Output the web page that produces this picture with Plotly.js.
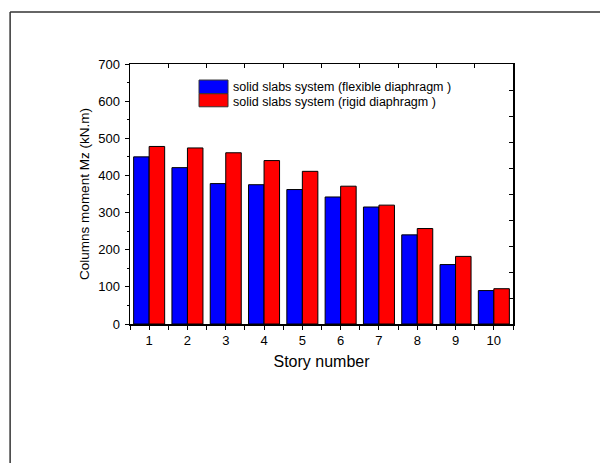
<!DOCTYPE html>
<html>
<head>
<meta charset="utf-8">
<script src="https://cdn.plot.ly/plotly-3.0.1.min.js"></script>
<style>html,body{margin:0;padding:0;background:#fff;}#chart{width:600px;height:463px;}</style>
</head>
<body>
<div id="chart"></div>
<script>
const stories = [1, 2, 3, 4, 5, 6, 7, 8, 9, 10];
const flexible = [450, 421, 378, 375, 362, 342, 315, 240, 160, 90];
const rigid = [478, 474, 461, 440, 411, 371, 320, 257, 182, 95];
const seriesNames = ["solid slabs system (flexible diaphragm )", "solid slabs system (rigid diaphragm )"];
const yTicks = [0, 100, 200, 300, 400, 500, 600, 700];
const rightTicks = [0, 70, 140, 210, 280, 350, 420, 490, 560, 630, 700];
const topTicks = [1.5, 2.5, 3.5, 4.5, 5.5, 6.5, 7.5, 8.5, 9.5];
const bottomMinorTicks = [0.5, 1.5, 2.5, 3.5, 4.5, 5.5, 6.5, 7.5, 8.5, 9.5, 10.5];

const font = "Liberation Sans, Arial, sans-serif";

const traces = [
  {type: "bar", x: stories, y: flexible, name: seriesNames[0],
   marker: {color: "#0000ff", line: {color: "#000", width: 1}}, showlegend: false},
  {type: "bar", x: stories, y: rigid, name: seriesNames[1],
   marker: {color: "#ff0000", line: {color: "#000", width: 1}}, showlegend: false},
  {type: "scatter", x: [stories[0]], y: [yTicks[0]], xaxis: "x2", yaxis: "y2",
   mode: "markers", marker: {opacity: 0}, showlegend: false, hoverinfo: "skip"}
];

const layout = {
  width: 600, height: 463,
  margin: {l: 130, r: 87, t: 64, b: 139},
  paper_bgcolor: "#fff", plot_bgcolor: "#fff",
  barmode: "group", bargap: 0.19, bargroupgap: 0,
  font: {family: font, color: "#000", size: 13},
  xaxis: {
    range: [0.5, 10.5], tickvals: stories, ticktext: stories.map(String),
    ticks: "outside", ticklen: 4, tickwidth: 1, tickcolor: "#000",
    minor: {tickvals: bottomMinorTicks, ticks: "outside", ticklen: 4, tickcolor: "#000"},
    showline: true, linecolor: "#000", linewidth: 1.5, showgrid: false, zeroline: false,
    tickfont: {size: 13, family: font}, ticklabelstandoff: 0,
    title: {text: "Story number", font: {size: 16, family: font}, standoff: 8}
  },
  yaxis: {
    range: [0, 700], tickvals: yTicks,
    ticks: "outside", ticklen: 4, tickwidth: 1, tickcolor: "#000",
    minor: {dtick: 50, ticks: "outside", ticklen: 2, tickcolor: "#000"},
    showline: true, linecolor: "#000", linewidth: 1.5, showgrid: false, zeroline: false,
    tickfont: {size: 13, family: font}, ticklabelstandoff: 2,
    title: {text: "Columns moment Mz (kN.m)", font: {size: 13.5, family: font}, standoff: 5}
  },
  xaxis2: {
    overlaying: "x", side: "top", range: [0.5, 10.5], tickvals: topTicks,
    ticks: "inside", ticklen: 4, tickcolor: "#000", showticklabels: false,
    showline: true, linecolor: "#000", linewidth: 1.5, showgrid: false, zeroline: false
  },
  yaxis2: {
    overlaying: "y", side: "right", range: [0, 700], tickvals: rightTicks,
    ticks: "inside", ticklen: 4, tickcolor: "#000", showticklabels: false,
    showline: true, linecolor: "#000", linewidth: 1.5, showgrid: false, zeroline: false
  },
  shapes: [
    {type: "line", xref: "paper", yref: "paper", x0: -0.313, x1: 1.3, y0: 1.2, y1: 1.2, line: {color: "#333", width: 1.5}},
    {type: "line", xref: "paper", yref: "paper", x0: -0.313, x1: -0.313, y0: 1.2, y1: -0.6, line: {color: "#333", width: 1.5}},
    {type: "rect", xref: "paper", yref: "paper", x0: 0.1802, x1: 0.2559, y0: 0.9383, y1: 0.8856, fillcolor: "#0000ff", line: {color: "#333", width: 1}},
    {type: "rect", xref: "paper", yref: "paper", x0: 0.1802, x1: 0.2559, y0: 0.8856, y1: 0.8354, fillcolor: "#ff0000", line: {color: "#333", width: 1}}
  ],
  annotations: [
    {xref: "paper", yref: "paper", x: 0.266, y: 0.9115, xanchor: "left", yanchor: "middle", showarrow: false,
     borderpad: 0, text: seriesNames[0], font: {size: 12.5, family: font, color: "#000"}},
    {xref: "paper", yref: "paper", x: 0.266, y: 0.8538, xanchor: "left", yanchor: "middle", showarrow: false,
     borderpad: 0, text: seriesNames[1], font: {size: 12.5, family: font, color: "#000"}}
  ]
};

Plotly.newPlot("chart", traces, layout, {staticPlot: true, displayModeBar: false});
</script>
</body>
</html>
